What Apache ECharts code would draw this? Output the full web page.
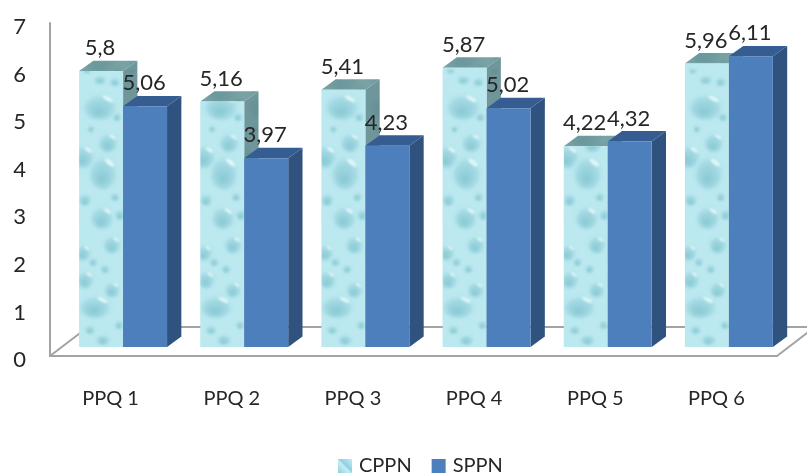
<!DOCTYPE html>
<html>
<head>
<meta charset="utf-8">
<style>html,body{margin:0;padding:0;background:#fff}#c{width:807px;height:473px}</style>
<script src="https://cdn.jsdelivr.net/npm/echarts@6/dist/echarts.min.js"></script>
</head>
<body>
<div id="c"></div>
<script>
var categories = ['PPQ 1', 'PPQ 2', 'PPQ 3', 'PPQ 4', 'PPQ 5', 'PPQ 6'];
var cppn = [5.8, 5.16, 5.41, 5.87, 4.22, 5.96];
var sppn = [5.06, 3.97, 4.23, 5.02, 4.32, 6.11];
var yTicks = [0, 7, 1];

var FONT = 'Lato, Carlito, Calibri, sans-serif';
var TILE_W = 44, TILE_H = 290;

function makeTile(shade) {
  var cv = document.createElement('canvas');
  cv.width = TILE_W; cv.height = TILE_H;
  var c = cv.getContext('2d');
  try { c.filter = 'blur(1px)'; } catch (e) {}
  c.fillStyle = '#bce9f0';
  c.fillRect(-4, -4, TILE_W + 8, TILE_H + 8);
  var drops = [
    [16,250,18,13],[23,161,13,13],[33,188,10,10],[4,196,9,9],[6,223,10,10],[33,233,9,9],
    [24,283,8,6],[21,50,19,15],[29,86,11,11],[4,100,13,13],[24,116,16,19],[6,143,7,7],
    [21,23,7,5],[36,25,6,5],[11,273,6,5],[41,158,6,6],[38,60,5,5],[8,14,5,3],
    [14,205,5,5],[26,212,5,5],[40,268,5,5],[12,72,4,4],[36,140,5,5]
  ];
  drops.forEach(function (d) {
    c.save();
    c.translate(d[0], d[1]);
    c.scale(1, d[3] / d[2]);
    var g = c.createRadialGradient(-d[2] * 0.1, d[2] * 0.35, d[2] * 0.1, 0, 0, d[2]);
    g.addColorStop(0, '#8ccbd6');
    g.addColorStop(0.65, '#a6dbe4');
    g.addColorStop(1, 'rgba(188,233,240,0.25)');
    c.fillStyle = g;
    c.beginPath(); c.arc(0, 0, d[2], 0, Math.PI * 2); c.fill();
    if (d[2] >= 9) {
      c.fillStyle = 'rgba(235,251,253,0.85)';
      c.translate(d[2] * 0.4, -d[2] * 0.55);
      c.rotate(0.6);
      c.scale(1, 0.38);
      c.beginPath(); c.arc(0, 0, d[2] * 0.33, 0, Math.PI * 2); c.fill();
    }
    c.restore();
  });
  if (shade) {
    c.filter = 'none';
    c.fillStyle = shade;
    c.fillRect(0, 0, TILE_W, TILE_H);
  }
  return cv;
}
var frontTile = makeTile(null);
var topTile = makeTile('rgba(90,128,130,0.68)');
var sideTile = makeTile('rgba(84,122,126,0.74)');

function barItem(values, kind) {
  return function (params, api) {
    var i = api.value(0);
    var band = api.size([1, 0])[0];
    var w = band * 0.363;
    var groupShift = band * 0.103;
    var yShift = -9;
    var dx = 14.3, dy = 10.4;
    var cx = api.coord([i, 0])[0] + groupShift;
    var xL = kind === 'cppn' ? cx - w : cx;
    var xR = xL + w;
    var yT = api.coord([i, api.value(1)])[1] + yShift;
    var yB = api.coord([i, 0])[1] + yShift;
    var z = kind === 'cppn' ? 1 : 2;
    var frontFill, sideFill, topFill;
    if (kind === 'cppn') {
      frontFill = { image: frontTile, repeat: 'repeat', x: xL, y: yB - TILE_H };
      sideFill = { image: sideTile, repeat: 'repeat', x: xR, y: yB - TILE_H };
      topFill = { image: topTile, repeat: 'repeat', x: xL, y: yT - 60 };
    } else {
      frontFill = '#4d7fbd';
      sideFill = '#30527f';
      topFill = '#365d92';
    }
    var label = String(api.value(1)).replace('.', ',');
    return {
      type: 'group',
      children: [
        { type: 'polygon', z2: z, shape: { points: [[xR, yT], [xR + dx, yT - dy], [xR + dx, yB - dy], [xR, yB]] }, style: { fill: sideFill } },
        { type: 'polygon', z2: z, shape: { points: [[xL, yT], [xL + dx, yT - dy], [xR + dx, yT - dy], [xR, yT]] }, style: { fill: topFill } },
        { type: 'rect', z2: z, shape: { x: xL, y: yT, width: xR - xL, height: yB - yT }, style: { fill: frontFill } },
        { type: 'text', z2: 100, style: { text: label, x: (xL + xR) / 2 - 1, y: yT - 23, align: 'center', verticalAlign: 'middle', font: '22px ' + FONT, fill: '#262626' } }
      ]
    };
  };
}

function floorItem(params, api) {
  var o = api.coord([0, 0]);
  var band = api.size([1, 0])[0];
  var x0 = o[0] - band / 2;
  var y0 = o[1];
  var x1 = x0 + band * categories.length;
  var dx = 38, dy = 29;
  var s = { stroke: '#a3a3a3', lineWidth: 2, fill: null };
  return {
    type: 'group',
    children: [
      { type: 'polyline', z2: 0, shape: { points: [[x0, y0], [x0 + dx, y0 - dy], [x1 + dx, y0 - dy]] }, style: s },
      { type: 'line', z2: 0, shape: { x1: x1, y1: y0, x2: x1 + dx, y2: y0 - dy }, style: s }
    ]
  };
}

var chart = echarts.init(document.getElementById('c'), null, { renderer: 'canvas' });
chart.setOption({
  animation: false,
  backgroundColor: '#fff',
  grid: { left: 50, right: 30, top: 23, bottom: 117 },
  legend: {
    left: 338, top: 456, padding: 0, itemWidth: 14, itemHeight: 14, itemGap: 20, icon: 'rect',
    textStyle: { fontFamily: FONT, fontSize: 20, color: '#262626', padding: [0, 0, 0, 2] },
    data: [
      { name: 'CPPN', itemStyle: { color: new echarts.graphic.LinearGradient(0, 1, 1, 0, [
        { offset: 0, color: '#8fd0de' }, { offset: 0.45, color: '#c4eef4' },
        { offset: 0.55, color: '#8fd0de' }, { offset: 1, color: '#c4eef4' }]) } },
      { name: 'SPPN', itemStyle: { color: '#4d7fbd' } }
    ]
  },
  xAxis: {
    type: 'category', data: categories,
    axisTick: { show: false },
    axisLine: { lineStyle: { color: '#a3a3a3', width: 2 } },
    axisLabel: { fontFamily: FONT, fontSize: 20, color: '#262626', margin: 33 }
  },
  yAxis: {
    type: 'value', min: yTicks[0], max: yTicks[1], interval: yTicks[2],
    splitLine: { show: false },
    axisTick: { show: false },
    axisLine: { show: true, lineStyle: { color: '#a3a3a3', width: 2 } },
    axisLabel: {
      fontFamily: FONT, fontSize: 22, color: '#262626', margin: 24,
      verticalAlign: 'top', verticalAlignMinLabel: 'top', verticalAlignMaxLabel: 'top', lineHeight: 8
    }
  },
  series: [
    { name: 'floor', type: 'custom', clip: false, silent: true, z: 1, renderItem: floorItem, data: [[0, 0]] },
    { name: 'CPPN', type: 'custom', clip: false, z: 2, itemStyle: { color: '#a9e0ea' }, renderItem: barItem(cppn, 'cppn'),
      data: cppn.map(function (v, i) { return [i, v]; }) },
    { name: 'SPPN', type: 'custom', clip: false, z: 2, itemStyle: { color: '#4d7fbd' }, renderItem: barItem(sppn, 'sppn'),
      data: sppn.map(function (v, i) { return [i, v]; }) }
  ]
});
</script>
</body>
</html>
